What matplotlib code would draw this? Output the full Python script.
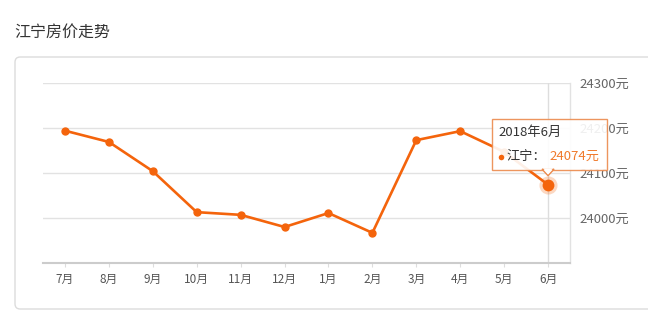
import matplotlib
matplotlib.use('Agg')
import matplotlib.pyplot as plt
from matplotlib.patches import FancyBboxPatch, Polygon, Rectangle
from matplotlib.lines import Line2D

plt.rcParams['font.family'] = ['Noto Sans CJK SC', 'DejaVu Sans']

# data
title = '江宁房价走势'
months = ['7月', '8月', '9月', '10月', '11月', '12月', '1月', '2月', '3月', '4月', '5月', '6月']
prices = [24194, 24169, 24104, 24013, 24007, 23980, 24011, 23967, 24173, 24193, 24147, 24074]
yticks = [24000, 24100, 24200, 24300]
series_name = '江宁'
tip_title = '2018年6月'
hover_idx = 11

W, H = 648, 326
line_c = '#f4640c'

fig = plt.figure(figsize=(W / 100, H / 100), dpi=100)

def fx(px):
    return px / W

def fy(py):
    return 1 - py / H

# outer card
card = FancyBboxPatch((fx(15), fy(309)), fx(700) - fx(15), fy(57) - fy(309),
                      boxstyle='round,pad=0,rounding_size=0.008', mutation_aspect=2,
                      transform=fig.transFigure, fc='white', ec='#dcdcdc', lw=1, zorder=-5)
fig.patches.append(card)

fig.text(fx(14), fy(32), title, fontsize=11.5, color='#333333', va='center', ha='left')

ax = fig.add_axes([fx(43), fy(263), fx(570) - fx(43), (263 - 83) / H])
ax.set_zorder(1)
ax.set_facecolor('none')
ax.set_xlim(-0.5, len(months) - 0.5)
ax.set_ylim(23900, 24300)

x = list(range(len(months)))
ax.plot(x, prices, color=line_c, lw=1.9, marker='o', ms=5, zorder=3)

# grid and axes
ax.set_yticks(yticks)
ax.set_yticklabels([f'{v}元' for v in yticks])
ax.yaxis.tick_right()
ax.yaxis.grid(True, color='#e2e2e2', lw=1)
ax.set_axisbelow(True)
ax.tick_params(axis='y', length=0, pad=7, labelsize=9.5, labelcolor='#666666')
ax.set_xticks(x)
ax.set_xticklabels(months)
ax.tick_params(axis='x', length=3, color='#dddddd', pad=4, labelsize=8.5, labelcolor='#555555')
for s in ['left', 'top']:
    ax.spines[s].set_visible(False)
ax.spines['bottom'].set_color('#cccccc')
ax.spines['bottom'].set_linewidth(1.5)
ax.spines['right'].set_color('#e2e2e2')
ax.spines['right'].set_linewidth(1)

# hover crosshair and highlighted point
ax.axvline(hover_idx, color='#dddddd', lw=1, zorder=1)
ax.plot(hover_idx, prices[hover_idx], 'o', ms=13, color=line_c, alpha=0.25, mec='none', zorder=4)
ax.plot(hover_idx, prices[hover_idx], 'o', ms=8.5, color=line_c, mec='none', zorder=5)

# tooltip, placed relative to the hovered point (display pixels)
px, py = ax.transData.transform((hover_idx, prices[hover_idx]))
to_fig = fig.transFigure.inverted()

def fpt(dx, dy):
    return to_fig.transform((px + dx, py + dy))

bl = fpt(-56, 15)
tr = fpt(59, 66)
tip = Rectangle(bl, tr[0] - bl[0], tr[1] - bl[1], transform=fig.transFigure,
                fc='white', alpha=0.9, ec='#ec8a4c', lw=1, zorder=10)
fig.add_artist(tip)
ptr = Polygon([fpt(-6, 15.5), fpt(0, 9), fpt(6, 15.5)], closed=True, transform=fig.transFigure,
              fc='white', ec='#ec8a4c', lw=1, zorder=11)
fig.add_artist(ptr)
# hide border segment under pointer
cover = Polygon([fpt(-5, 16.5), fpt(0, 10.5), fpt(5, 16.5)], closed=True, transform=fig.transFigure,
                fc='white', ec='none', zorder=12)
fig.add_artist(cover)

t = fpt(-50, 52)
fig.text(t[0], t[1], tip_title, fontsize=9.5, color='#333333', va='center', ha='left', zorder=13)
d = fpt(-47, 28)
fig.add_artist(Line2D([d[0]], [d[1]], transform=fig.transFigure, marker='o', ms=4,
                      color=line_c, mec='none', zorder=13))
t = fpt(-42, 28)
fig.text(t[0], t[1], series_name + '：', fontsize=9.5, color='#333333', va='center', ha='left', zorder=13)
t = fpt(1, 28)
fig.text(t[0], t[1], f'{prices[hover_idx]}元', fontsize=9.5, color='#f07a2c', va='center', ha='left', zorder=13)

fig.savefig('out.png', dpi=100)
